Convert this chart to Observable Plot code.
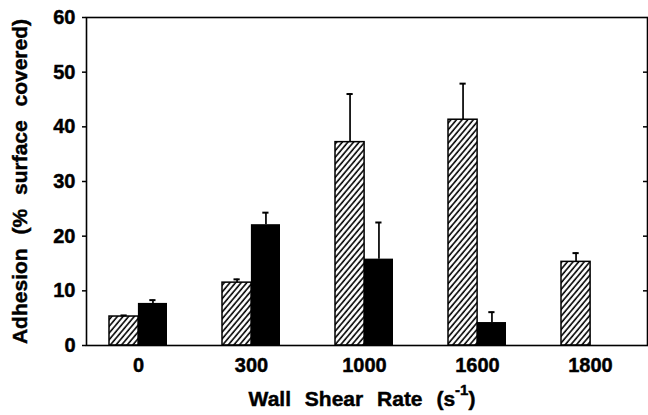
<!DOCTYPE html>
<html><head><meta charset="utf-8">
<script src="https://cdn.jsdelivr.net/npm/d3@7"></script>
<script src="https://cdn.jsdelivr.net/npm/@observablehq/plot@0.6"></script>
<style>
html,body{margin:0;padding:0;background:#fff;}
#chart svg text{stroke:#000;stroke-width:0.45px;}
</style>
</head><body><div id="chart"></div>
<script>
const categories = ["0", "300", "1000", "1600", "1800"];
const hatchedMeans = [5.3, 11.5, 37.2, 41.3, 15.3];
const hatchedErrors = [0.2, 0.6, 8.8, 6.6, 1.6];
const solidMeans = [7.7, 22.1, 15.8, 4.2, null];
const solidErrors = [0.6, 2.2, 6.7, 1.9, null];
const yTicks = [0, 10, 20, 30, 40, 50, 60];
const rightTicks = [10, 20, 30, 40, 50];

const hatched = categories.map((c, i) => ({cat: c, v: hatchedMeans[i], hi: hatchedMeans[i] + hatchedErrors[i]}));
const solid = categories.map((c, i) => ({cat: c, v: solidMeans[i], hi: solidMeans[i] == null ? null : solidMeans[i] + solidErrors[i]}))
  .filter(d => d.v != null);

const HALF = 28.9;

const chart = Plot.plot({
  width: 648,
  height: 415,
  marginTop: 17,
  marginBottom: 70,
  marginLeft: 86,
  marginRight: 1,
  style: {fontFamily: "'Liberation Sans', Arial, Helvetica, sans-serif", fontWeight: "bold", fontSize: "20px", color: "#000", background: "#fff"},
  x: {domain: categories, paddingInner: 0.49, paddingOuter: 0.22, align: 0.44},
  y: {domain: [0, 60]},
  marks: [
    Plot.barY(hatched, {x: "cat", y: "v", insetRight: HALF, fill: "url(#hatch)", stroke: "#000", strokeWidth: 1.5}),
    Plot.barY(solid, {x: "cat", y: "v", insetLeft: HALF, fill: "#000"}),
    Plot.ruleX(hatched, {x: "cat", y1: "v", y2: "hi", dx: -HALF / 2, strokeWidth: 1.7}),
    Plot.ruleX(solid, {x: "cat", y1: "v", y2: "hi", dx: HALF / 2, strokeWidth: 1.7}),
    Plot.tickY(hatched, {x: "cat", y: "hi", insetLeft: 11.5, insetRight: 40.3, strokeWidth: 2}),
    Plot.tickY(solid, {x: "cat", y: "hi", insetLeft: 40.3, insetRight: 11.5, strokeWidth: 2}),
    Plot.tickY(rightTicks, {y: d => d, insetLeft: 557, strokeWidth: 1.5}),
    Plot.frame({strokeWidth: 1.6}),
    Plot.axisY(yTicks, {tickSize: 4, tickPadding: 7, strokeWidth: 1.5, fontSize: 20,
      label: "Adhesion (% surface covered)", labelArrow: "none", labelAnchor: "center", labelOffset: 74}),
    Plot.axisX({tickSize: 0, tickPadding: 12, fontSize: 20,
      label: "Wall Shear Rate (s-1)", labelArrow: "none", labelAnchor: "center", labelOffset: 60})
  ]
});

// hatch pattern
const defs = d3.select(chart).insert("defs", ":first-child");
const pat = defs.append("pattern")
  .attr("id", "hatch")
  .attr("patternUnits", "userSpaceOnUse")
  .attr("width", 4.3).attr("height", 10)
  .attr("patternTransform", "rotate(40)");
pat.append("rect").attr("width", 4.3).attr("height", 10).attr("fill", "#fff");
pat.append("line").attr("x1", 1).attr("y1", 0).attr("x2", 1).attr("y2", 10)
  .attr("stroke", "#000").attr("stroke-width", 1.6);

// label styling
const yl = chart.querySelector('[aria-label="y-axis label"] text');
if (yl) { yl.style.fontSize = "21px"; yl.style.wordSpacing = "8px"; }
const xl = chart.querySelector('[aria-label="x-axis label"] text');
if (xl) {
  xl.style.fontSize = "21px"; xl.style.wordSpacing = "8px";
  xl.setAttribute("dx", "-5");
  xl.textContent = "";
  const t = d3.select(xl);
  t.append("tspan").text("Wall Shear Rate (s");
  t.append("tspan").attr("dy", "-11").style("font-size", "15px").text("-1");
  t.append("tspan").attr("dy", "11").text(")");
}
document.getElementById("chart").appendChild(chart);
</script>
</body></html>
